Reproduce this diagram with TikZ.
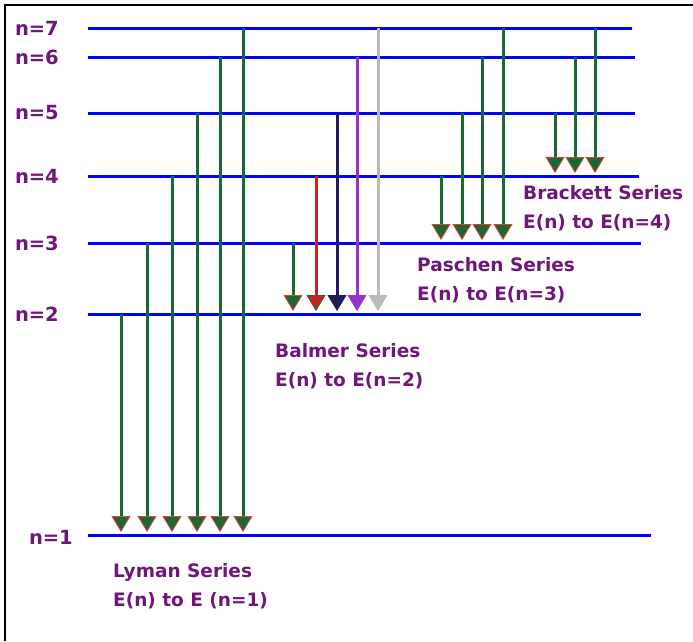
\documentclass[tikz,border=0pt]{standalone}
\usepackage{fontspec}
\setmainfont{DejaVu Sans}
\usepackage{xcolor}
\usepackage{tikz}
\usetikzlibrary{arrows.meta}

\definecolor{levelblue}{RGB}{0,0,255}
\definecolor{txtpurple}{RGB}{112,22,122}
\definecolor{arrgreen}{RGB}{25,105,55}
\definecolor{arrred}{RGB}{200,35,30}
\definecolor{arrnavy}{RGB}{28,28,90}
\definecolor{arrviolet}{RGB}{150,50,200}
\definecolor{arrgrey}{RGB}{190,185,185}
\definecolor{glowred}{RGB}{235,60,50}

\begin{document}
\begin{tikzpicture}[x=1pt, y=-1pt,
    level/.style={levelblue, line width=3pt},
    lvllabel/.style={txtpurple, font=\fontsize{19.5}{22}\selectfont\bfseries, anchor=east, inner sep=0pt},
    series/.style={txtpurple, font=\fontsize{18.5}{29}\selectfont\bfseries, align=left, anchor=west, inner sep=0pt},
    trans/.style 2 args={draw=#1, line width=3pt, shorten >=3pt,
        -{Triangle[length=16pt, width=19pt, line width=0.8pt, color=#2, fill=#1]}}]
    \useasboundingbox (0,0) rectangle (693,641);
    \draw[black, line width=2pt] (5,641) -- (5,5) -- (693,5);

    % energy levels
    \foreach \n/\y/\xe in {1/535/651, 2/314/641, 3/243/641, 4/176/639, 5/113/635, 6/57/635, 7/28/632} {
        \coordinate (lev\n) at (88,\y);
        \coordinate (end\n) at (\xe,\y);
        \draw[level] (lev\n) -- (end\n);
    }
    \foreach \n/\y in {2/314, 3/243, 4/176, 5/113, 6/57, 7/28}
        \node[lvllabel] (lab\n) at (59,\y) {n=\n};
    \node[lvllabel] (lab1) at (73,537) {n=1};

    % Lyman
    \foreach \x/\n in {121/2, 147/3, 172/4, 197/5, 220/6, 243/7}
        \draw[trans={arrgreen}{glowred}] (\x,0 |- lev\n) -- (\x,0 |- lev1);
    % Balmer
    \foreach \x/\n/\c/\o in {293/3/arrgreen/glowred, 316/4/arrred/arrgreen, 337/5/arrnavy/arrnavy, 357/6/arrviolet/arrviolet, 378/7/arrgrey/arrgrey}
        \draw[trans={\c}{\o}] (\x,0 |- lev\n) -- (\x,0 |- lev2);
    % Paschen
    \foreach \x/\n in {441/4, 462/5, 482/6, 503/7}
        \draw[trans={arrgreen}{glowred}] (\x,0 |- lev\n) -- (\x,0 |- lev3);
    % Brackett
    \foreach \x/\n in {555/5, 575/6, 595/7}
        \draw[trans={arrgreen}{glowred}] (\x,0 |- lev\n) -- (\x,0 |- lev4);

    \node[series] (lyman) at (113,586) {Lyman Series\\E(n) to E (n=1)};
    \node[series] (balmer) at (275,366) {Balmer Series\\E(n) to E(n=2)};
    \node[series] (paschen) at (417,280) {Paschen Series\\E(n) to E(n=3)};
    \node[series] (brackett) at (523,208) {Brackett Series\\E(n) to E(n=4)};
\end{tikzpicture}
\end{document}
